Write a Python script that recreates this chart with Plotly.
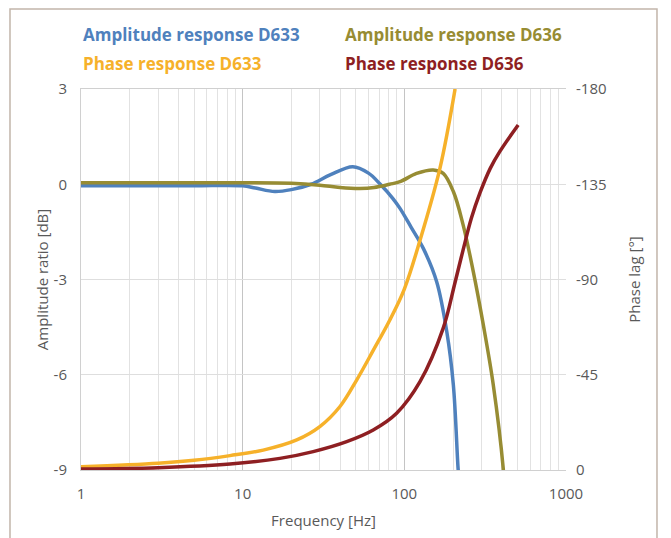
import plotly.graph_objects as go

# ---- data ----
amp_d633_freq = [1, 2, 5, 10, 12, 15.8, 20, 26.5, 35, 48, 60, 71, 85, 94, 110, 131, 158.5, 183, 201, 215, 218]
amp_d633_db = [-0.05, -0.05, -0.05, -0.05, -0.12, -0.23, -0.17, 0.0, 0.3, 0.55, 0.35, 0.0, -0.45, -0.76, -1.35, -2.02, -3.07, -4.64, -6.32, -8.95, -9.3]

amp_d636_freq = [1, 10, 20, 30, 40, 53, 65, 81, 94, 119, 151, 174, 201, 231, 267, 308, 355, 409, 412]
amp_d636_db = [0.05, 0.05, 0.03, -0.03, -0.1, -0.13, -0.1, 0.0, 0.08, 0.34, 0.45, 0.34, -0.23, -1.28, -2.75, -4.43, -6.32, -8.95, -9.2]

ph_d633_freq = [1, 3, 5, 8.35, 13.4, 21.6, 30, 40, 50.7, 64.2, 81.5, 100, 125, 166, 206]
ph_d633_deg = [-1.5, -3.2, -4.6, -6.8, -9.4, -14.2, -20.5, -30, -42.5, -56.5, -71, -85.5, -108.5, -142.5, -180]

ph_d636_freq = [1, 3, 8.35, 17, 27.3, 44, 64.2, 89.6, 125, 174, 205, 231, 260, 294, 340, 390, 506]
ph_d636_deg = [-0.5, -1.1, -2.8, -5.5, -8.7, -13.4, -18.9, -26.8, -41.7, -67, -88, -104, -119, -131, -142.5, -150.5, -163]

x_ticks = [1, 10, 100, 1000]
x_minor = [m * d for d in (1, 10, 100) for m in range(2, 10)]
y_ticks = [3, 0, -3, -6, -9]
y2_ticks = [-180, -135, -90, -45, 0]

series = [
    ("Amplitude response D633", amp_d633_freq, amp_d633_db, "y", "#4f81bd"),
    ("Amplitude response D636", amp_d636_freq, amp_d636_db, "y", "#978c33"),
    ("Phase response D633", ph_d633_freq, ph_d633_deg, "y2", "#f6b12a"),
    ("Phase response D636", ph_d636_freq, ph_d636_deg, "y2", "#8e1f22"),
]

text_color = "#595959"
font_family = "Open Sans, DejaVu Sans, sans-serif"

fig = go.Figure()
for name, fx, fy, ax, col in series:
    fig.add_trace(go.Scatter(
        x=fx, y=fy, name=name, yaxis=ax, mode="lines",
        line=dict(color=col, width=3.5, shape="spline", smoothing=1.0),
        showlegend=False,
    ))

# legend-like coloured labels above the plot
legend_pos = [(0.0, 1.142), (0.54, 1.142), (0.0, 1.066), (0.54, 1.066)]
for (name, _, _, _, col), (lx, ly) in zip(series, legend_pos):
    fig.add_annotation(
        text="<b>" + name + "</b>", x=lx, y=ly, xref="paper", yref="paper",
        xanchor="left", yanchor="middle", showarrow=False,
        font=dict(size=17, color=col, family=font_family),
    )

# outer frame of the picture
fig.add_shape(type="rect", xref="paper", yref="paper",
              x0=-0.1464, x1=1.1876, y0=-0.3, y1=1.2100,
              line=dict(color="#c2b5aa", width=1.5), fillcolor="rgba(0,0,0,0)")

fig.update_layout(
    width=663, height=530,
    margin=dict(l=73, r=105, t=81, b=68),
    paper_bgcolor="white", plot_bgcolor="white",
    font=dict(family=font_family, size=15, color=text_color),
    xaxis=dict(
        type="log", range=[0, 3], automargin=False,
        tickvals=x_ticks, ticktext=[str(v) for v in x_ticks],
        showgrid=True, gridcolor="#c4c4c4", gridwidth=1,
        minor=dict(tickvals=x_minor, showgrid=True, gridcolor="#e2e2e2", gridwidth=1),
        showline=True, linecolor="#d0d0d0", linewidth=1, mirror=True,
        ticks="", ticklabelstandoff=10, zeroline=False,
        title=dict(text="Frequency [Hz]", standoff=13, font=dict(size=15, color=text_color)),
    ),
    yaxis=dict(
        range=[-9, 3], tickvals=y_ticks, ticktext=[str(v) for v in y_ticks],
        automargin=False,
        showgrid=True, gridcolor="#dedede", gridwidth=1,
        showline=True, linecolor="#d0d0d0", linewidth=1,
        ticks="", ticklabelstandoff=10, zeroline=False,
        title=dict(text="Amplitude ratio [dB]", standoff=1, font=dict(size=15, color=text_color)),
    ),
    yaxis2=dict(
        overlaying="y", side="right", range=[0, -180],
        tickvals=y2_ticks, ticktext=[str(v) for v in y2_ticks],
        showgrid=False, zeroline=False, showline=False, automargin=False,
        ticks="", ticklabelstandoff=9,
        title=dict(text="Phase lag [°]", standoff=23, font=dict(size=15, color=text_color)),
    ),
)

fig.write_html("out.html")
